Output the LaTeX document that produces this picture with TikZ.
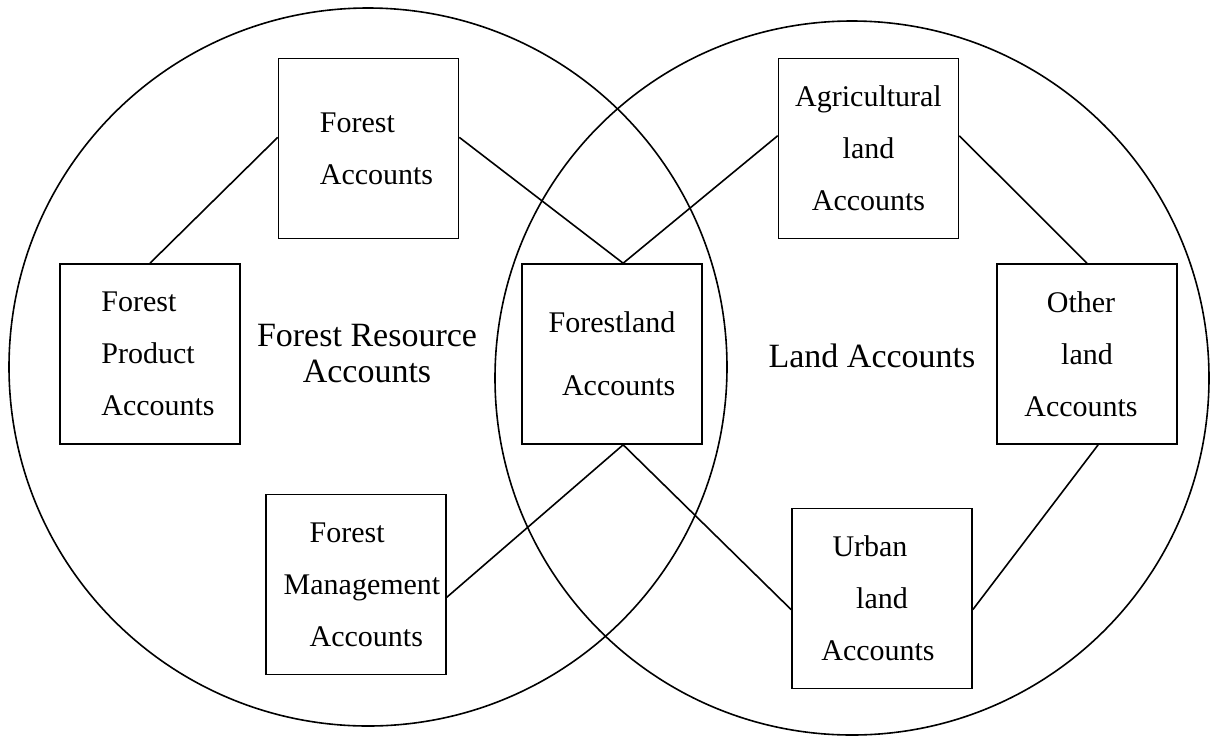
\documentclass[tikz,border=0pt]{standalone}
\usepackage{fontspec}
\setmainfont{Liberation Serif}
\usetikzlibrary{positioning}

\begin{document}
\begin{tikzpicture}[
    x=0.5pt,y=-0.5pt,
    ring/.style={draw=black,line width=0.8pt},
    box/.style={draw=black,line width=0.8pt,minimum width=90pt,minimum height=90pt,inner sep=0pt,font=\fontsize{15pt}{26pt}\selectfont},
    link/.style={draw=black,line width=0.8pt},
    title/.style={align=center,font=\fontsize{17pt}{18pt}\selectfont}
  ]
    \useasboundingbox (0,0) rectangle (1211,735);
    \draw[ring] (368,367) circle[radius=179.5pt];
    \draw[ring] (852,378) circle[radius=178.5pt];
    \node[box,align=left] (fa) at (368.5,148.5) {\hspace*{8pt}Forest\\\hspace*{8pt}Accounts};
    \node[box,align=center] (ag) at (868.5,148.5) {Agricultural\\land\\Accounts};
    \node[box,align=left] (fp) at (150,354) {\hspace*{8pt}Forest\\\hspace*{8pt}Product\\\hspace*{8pt}Accounts};
    \node[box,align=right,font=\fontsize{15pt}{31.5pt}\selectfont] (fl) at (612,354) {Forestland\\Accounts};
    \node[box,align=center] (ol) at (1087,354) {Other\hspace*{6pt}\\land\hspace*{6pt}\\Accounts\hspace*{6pt}};
    \node[box,align=left] (fm) at (356,584.5) {\hspace*{19pt}Forest\\\hspace*{6pt}Management\\\hspace*{19pt}Accounts};
    \node[box,align=center] (ub) at (882,598.5) {Urban\hspace*{12pt}\\land\hspace*{8pt}\\Accounts\hspace*{4pt}};
    \node[title] (fra) at (367,354) {Forest Resource\\Accounts};
    \node[title] (la) at (872,356) {Land Accounts};
    \draw[link] (fp.north) -- (fa.173);
    \draw[link] (fa.7) -- (fl.83);
    \draw[link] (ag.172) -- (fl.83);
    \draw[link] (ag.8) -- (ol.north);
    \draw[link] (fl.277) -- (fm.-8);
    \draw[link] (fl.277) -- (ub.187);
    \draw[link] (ub.-7) -- (ol.277);
  \end{tikzpicture}
\end{document}
